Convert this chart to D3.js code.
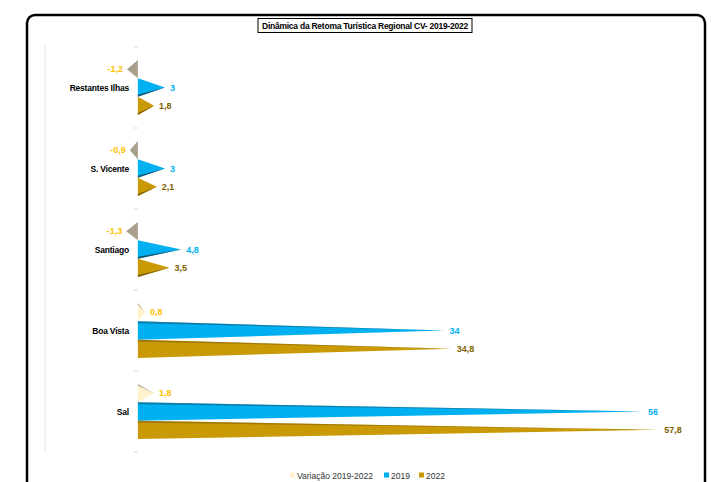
<!DOCTYPE html>
<html><head><meta charset="utf-8">
<script src="https://cdn.jsdelivr.net/npm/d3@7"></script>
<style>
html,body{margin:0;padding:0;background:#fff;}
text{font-family:"Liberation Sans Narrow","Arial Narrow","Liberation Sans",sans-serif;font-weight:bold;}
</style></head>
<body>
<svg id="chart" width="711" height="482"></svg>
<script>
const title = "Dinâmica da Retoma Turística Regional CV- 2019-2022";
const categories = ["Restantes Ilhas", "S. Vicente", "Santiago", "Boa Vista", "Sal"];
const seriesNames = ["Variação 2019-2022", "2019", "2022"];
const variacao = [-1.2, -0.9, -1.3, 0.8, 1.8];
const v2019 = [3, 3, 4.8, 34, 56];
const v2022 = [1.8, 2.1, 3.5, 34.8, 57.8];

const seriesValues = [variacao, v2019, v2022];
const fillPos = ["#FFF2CC", "#00B0F0", "#C99A06"];
const fillNeg = ["#A8A08B", "#00B0F0", "#C99A06"];
const shade = ["#8c8270", "#1d3f52", "#6e5200"];
const labelColor = ["#FFC000", "#00B0F0", "#806000"];
const fmt = v => String(v).replace(".", ",");

const svg = d3.select("#chart");

// outer rounded border
svg.append("rect").attr("x", 27).attr("y", 15).attr("width", 678).attr("height", 490)
  .attr("rx", 8).attr("fill", "#fff").attr("stroke", "#000").attr("stroke-width", 2.5);

// scales
const x = d3.scaleLinear().domain([-10.3, 60]).range([45, 679]);
const y = d3.scaleBand().domain(categories).range([47, 452]).padding(0);
const ySub = d3.scaleBand().domain(seriesNames).range([13, 68]).padding(0);

// faint plot-area left line
svg.append("line").attr("x1", x(-10.3)).attr("x2", x(-10.3)).attr("y1", 45).attr("y2", 453)
  .attr("stroke", "#e6e6e6").attr("stroke-width", 1);

// category tick marks at band boundaries
const bounds = categories.map(c => y(c)).concat([y(categories[categories.length-1]) + y.bandwidth()]);
svg.append("g").selectAll("line").data(bounds).join("line")
  .attr("x1", x(0) - 4).attr("x2", x(0)).attr("y1", d => d).attr("y2", d => d)
  .attr("stroke", "#d9d9d9").attr("stroke-width", 1);

// bars (pyramids)
const bars = svg.append("g");
seriesValues.forEach((vals, si) => {
  vals.forEach((v, ci) => {
    const top = y(categories[ci]) + ySub(seriesNames[si]);
    const h = ySub.bandwidth();
    const bot = top + h, mid = top + h / 2;
    const x0 = x(0), xt = x(v);
    const len = Math.abs(xt - x0);
    bars.append("path")
      .attr("d", `M${x0},${top}L${xt},${mid}L${x0},${bot}Z`)
      .attr("fill", v < 0 ? fillNeg[si] : fillPos[si]);
    if (v > 0) {
      if (len > 100) {
        bars.append("path")
          .attr("d", `M${x0},${top}L${xt},${mid}L${x0},${top + 2}Z`)
          .attr("fill", shade[si]).attr("opacity", 0.45);
      } else if (si === 0) {
        bars.append("path")
          .attr("d", `M${x0},${top}L${xt},${mid}L${x0},${top + 1.5}Z`)
          .attr("fill", shade[si]).attr("opacity", 0.7);
      } else {
        bars.append("path")
          .attr("d", `M${x0},${bot}L${xt},${mid}L${x0},${bot - 2}Z`)
          .attr("fill", shade[si]).attr("opacity", 0.8);
      }
    }
    // value label
    svg.append("text")
      .attr("x", v < 0 ? xt - 4 : xt + 5)
      .attr("y", mid + 3)
      .attr("text-anchor", v < 0 ? "end" : "start")
      .attr("font-size", 9)
      .attr("fill", labelColor[si])
      .text(fmt(v));
  });
});

// category labels
svg.append("g").selectAll("text").data(categories).join("text")
  .attr("x", 129).attr("y", d => y(d) + y.bandwidth() / 2 + 3)
  .attr("text-anchor", "end").attr("font-size", 8.5).attr("fill", "#000")
  .attr("letter-spacing", -0.2)
  .text(d => d);

// title
const tg = svg.append("g");
const tt = tg.append("text").attr("x", 365).attr("y", 28.5).attr("text-anchor", "middle")
  .attr("font-size", 9).attr("fill", "#000").attr("letter-spacing", -0.25).text(title);
const tw = tt.node().getComputedTextLength();
tg.insert("rect", "text").attr("x", 365 - 214 / 2).attr("y", 18.5).attr("width", 214).attr("height", 14)
  .attr("fill", "#fff").attr("stroke", "#000").attr("stroke-width", 1);
tt.attr("textLength", Math.min(tw, 206)).attr("lengthAdjust", "spacingAndGlyphs");

// legend
const legend = svg.append("g");
const legX = [290, 384, 419];
seriesNames.forEach((n, i) => {
  legend.append("rect").attr("x", legX[i]).attr("y", 472.5).attr("width", 5).attr("height", 5)
    .attr("fill", fillPos[i]);
  legend.append("text").attr("x", legX[i] + 7).attr("y", 478.5).attr("font-size", 8.5)
    .style("font-weight", "normal")
    .attr("fill", "#333").text(n);
});
</script>
</body></html>
